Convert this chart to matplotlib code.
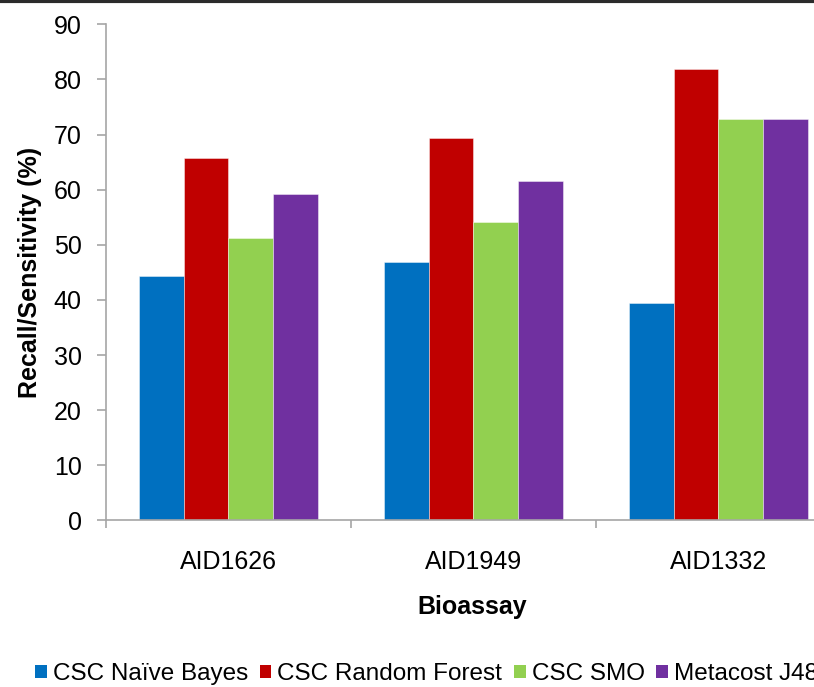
import numpy as np
import matplotlib.pyplot as plt
from matplotlib.patches import Patch
from matplotlib.lines import Line2D

plt.rcParams['font.family'] = ['Liberation Sans', 'DejaVu Sans']

assays = ['AID1626', 'AID1949', 'AID1332']
methods = ['CSC Naïve Bayes', 'CSC Random Forest', 'CSC SMO', 'Metacost J48']
naive_bayes = [44.3, 46.9, 39.5]
random_forest = [65.8, 69.3, 81.9]
smo = [51.3, 54.1, 72.8]
metacost_j48 = [59.3, 61.6, 72.8]
colors = ['#0070C0', '#C00000', '#92D050', '#7030A0']

series = [naive_bayes, random_forest, smo, metacost_j48]
fs = 18

fig = plt.figure(figsize=(8.14, 6.87), dpi=100)
ax = fig.add_axes([0.130, 0.2424, 0.903, 0.7222])

x = np.arange(len(assays))
w = 0.182
for i, vals in enumerate(series):
    ax.bar(x + (i - 1.5) * w, vals, w, color=colors[i], label=methods[i],
           edgecolor=(1, 1, 1, 0.5), linewidth=0.6, zorder=2)

ax.set_xlim(-0.5, 2.5)
ax.set_ylim(0, 90)
ax.set_yticks(np.arange(0, 91, 10))
ax.set_xticks([-0.5, 0.5, 1.5, 2.5])
ax.set_xticklabels([])
ax.set_xticks(x, minor=True)
ax.set_xticklabels(assays, minor=True)
ax.tick_params(axis='x', which='minor', length=0, pad=21, labelsize=fs)
ax.tick_params(axis='x', which='major', length=6, width=1.2, color='#a6a6a6')
ax.tick_params(axis='y', length=6.5, width=1.2, color='#a6a6a6', pad=11,
               labelsize=fs)

for s in ['top', 'right']:
    ax.spines[s].set_visible(False)
for s in ['left', 'bottom']:
    ax.spines[s].set_color('#a6a6a6')
    ax.spines[s].set_linewidth(1.2)

ax.set_xlabel('Bioassay', fontsize=fs, fontweight='bold')
ax.set_ylabel('Recall/Sensitivity (%)', fontsize=fs, fontweight='bold',
              labelpad=8)
ax.xaxis.set_label_coords((472 - 106) / 735, -0.15)

# legend sits right on the bottom edge, last label runs off to the right like the original
handles = [Patch(facecolor=c) for c in colors]
fig.legend(handles, methods, loc='center left', bbox_to_anchor=(35 / 814, 1 - 674 / 687),
           ncol=4, frameon=False, fontsize=17.5, handlelength=0.48,
           handleheight=0.48, handletextpad=0.25, columnspacing=0.48,
           borderaxespad=0, borderpad=0)

fig.add_artist(Line2D([0, 1], [0.998, 0.998], color='#2b2b2b', linewidth=3,
                      transform=fig.transFigure))

fig.savefig('out.png', dpi=100)
